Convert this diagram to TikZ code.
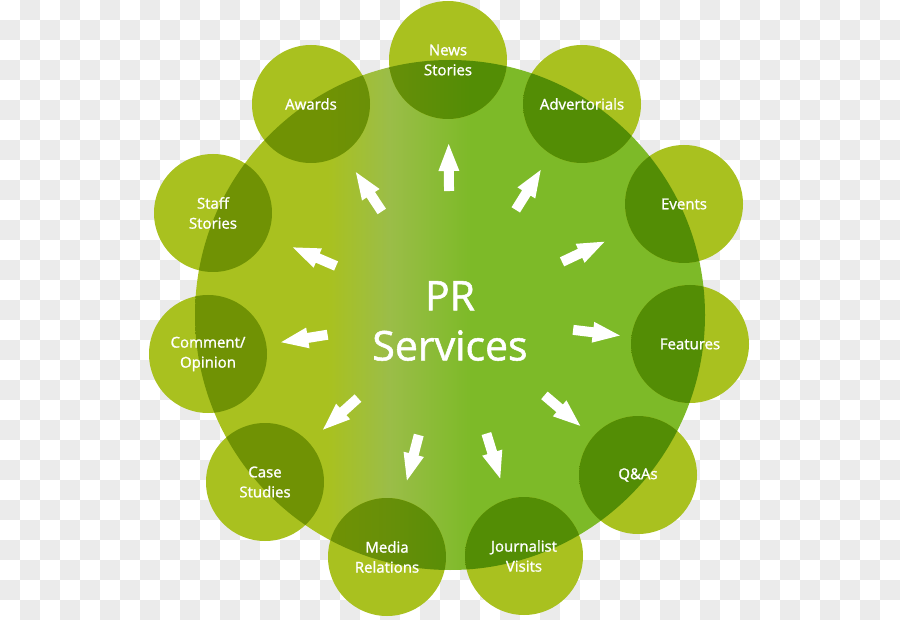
\documentclass[tikz,border=0pt]{standalone}
\usepackage{fontspec}
\setmainfont{Open Sans}
\newfontfamily\prfont{Open Sans}[FakeBold=1.3]
\usepackage{tikz}
\usetikzlibrary{calc}
\definecolor{prchk}{RGB}{235,235,235}
\definecolor{pryg}{RGB}{169,193,31}
\definecolor{prmid}{RGB}{155,189,72}
\definecolor{prgrn}{RGB}{125,186,40}
\definecolor{ovyg}{RGB}{112,146,4}
\definecolor{ovmid}{RGB}{103,143,9}
\definecolor{ovgrn}{RGB}{83,141,5}
% left yellow-green to green, circle edges sit at 25bp and 75bp
\pgfdeclarehorizontalshading{bigsh}{100bp}{color(0bp)=(pryg); color(38bp)=(pryg);
  color(44bp)=(prmid); color(52bp)=(prgrn); color(100bp)=(prgrn)}
\pgfdeclarehorizontalshading{ovsh}{100bp}{color(0bp)=(ovyg); color(38bp)=(ovyg);
  color(44bp)=(ovmid); color(52bp)=(ovgrn); color(100bp)=(ovgrn)}
\pgfdeclarelayer{back}
\pgfdeclarelayer{mid}
\pgfsetlayers{back,mid,main}
\tikzset{
  hub/.style={circle, minimum size=510pt, inner sep=0pt, align=center, text=white,
    font=\prfont\fontsize{41}{50}\selectfont},
  spoke/.style={circle, minimum size=118pt, inner sep=0pt, align=center, text=white,
    font=\prfont\fontsize{15}{20}\selectfont},
  blockarrow/.style={fill=white, draw=none}
}

\begin{document}
\begin{tikzpicture}[x=1pt,y=-1pt]
   \useasboundingbox (0,0) rectangle (900,620);
   \coordinate (prc) at (450,315);
   \node[hub] (pr) at (450,321) {PR\\Services};
   \foreach \nm/\pos/\txt in {news/{448,60}/{News\\Stories}, advert/{582,104}/Advertorials,
       events/{684,204}/Events, feat/{690,344}/Features, qas/{638,475}/{Q\&As},
       visits/{524,556}/{Journalist\\Visits}, media/{387,557}/{Media\\Relations},
       cases/{265,482}/{Case\\Studies}, comment/{208,354}/{Comment/\\Opinion},
       staff/{213,213}/{Staff\\Stories}, awards/{311,104}/Awards}{
     \node[spoke] (\nm) at (\pos) {\txt};
   }
   \begin{pgfonlayer}{back}
     \foreach \i in {0,...,44}{
       \foreach \j in {0,...,30}{
         \pgfmathparse{int(mod(\i+\j,2))}
         \ifnum\pgfmathresult=1
           \fill[prchk] (20*\i,20*\j) rectangle ++(20,20);
         \fi
       }}
     \shade[shading=bigsh] (prc) circle (255pt);
   \end{pgfonlayer}
   \begin{pgfonlayer}{mid}
     \foreach \nm in {news,advert,events,feat,qas,visits,media,cases,comment,staff,awards}{
       \fill[pryg] (\nm.center) circle (59pt);
       \begin{scope}
         \clip (\nm.center) circle (59pt);
         \shade[shading=ovsh] (prc) circle (255pt);
       \end{scope}
     }
   \end{pgfonlayer}
   % white block arrows from the hub out to each service
   \foreach \nm in {news,advert,events,feat,qas,visits,media,cases,comment,staff,awards}{
     \coordinate (tip) at ($(prc)!171pt!(\nm.center)$);
     \coordinate (hb) at ($(prc)!144pt!(\nm.center)$);
     \coordinate (tb) at ($(prc)!124pt!(\nm.center)$);
     \fill[blockarrow] ($(hb)!10.5pt!90:(\nm.center)$) -- (tip) -- ($(hb)!10.5pt!-90:(\nm.center)$)
        -- ($(hb)!5pt!-90:(\nm.center)$) -- ($(tb)!5pt!-90:(tip)$)
        -- ($(tb)!5pt!90:(tip)$) -- ($(hb)!5pt!90:(\nm.center)$) -- cycle;
   }
\end{tikzpicture}
\end{document}
